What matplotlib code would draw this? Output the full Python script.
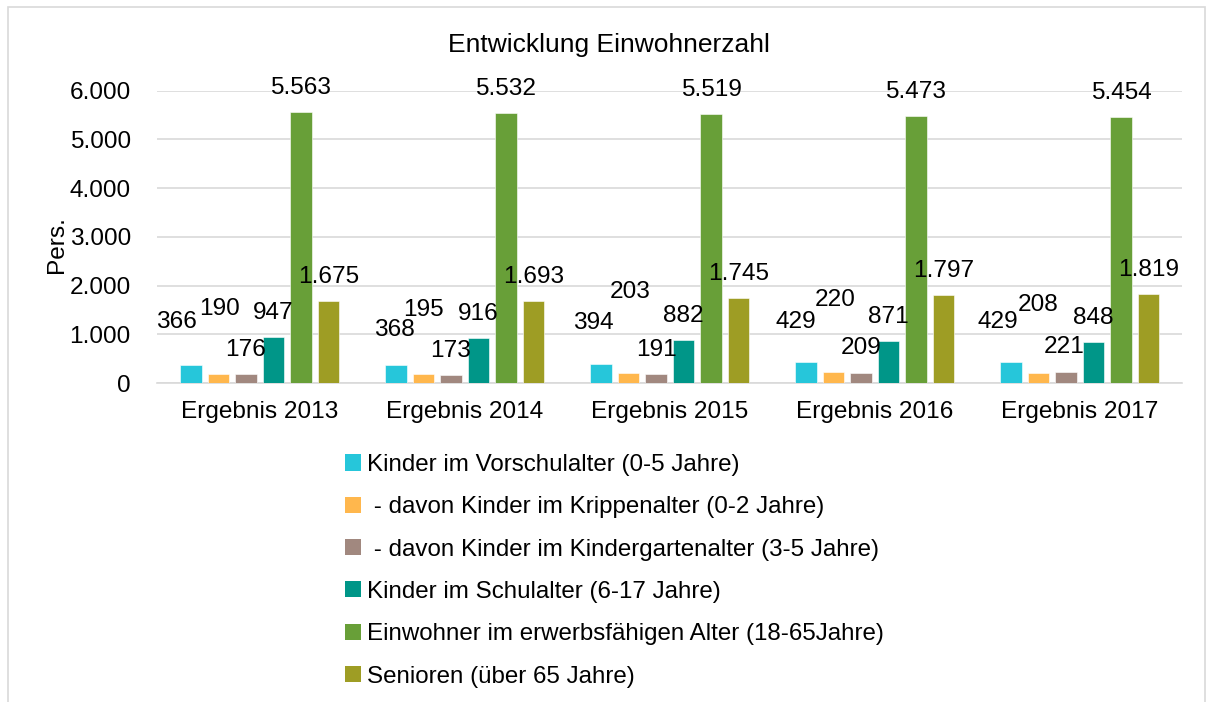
import matplotlib

matplotlib.use("Agg")
import matplotlib.pyplot as plt
import numpy as np
from matplotlib.patches import Patch, Rectangle
from matplotlib.ticker import FuncFormatter

plt.rcParams["font.family"] = ["Liberation Sans", "DejaVu Sans"]

# --- data --------------------------------------------------------------------
years = ["Ergebnis 2013", "Ergebnis 2014", "Ergebnis 2015", "Ergebnis 2016", "Ergebnis 2017"]

vorschul = [366, 368, 394, 429, 429]
krippe = [190, 195, 203, 220, 208]
kiga = [176, 173, 191, 209, 221]
schul = [947, 916, 882, 871, 848]
erwerb = [5563, 5532, 5519, 5473, 5454]
senioren = [1675, 1693, 1745, 1797, 1819]

series_names = [
    "Kinder im Vorschulalter (0-5 Jahre)",
    " - davon Kinder im Krippenalter (0-2 Jahre)",
    " - davon Kinder im Kindergartenalter (3-5 Jahre)",
    "Kinder im Schulalter (6-17 Jahre)",
    "Einwohner im erwerbsfähigen Alter (18-65Jahre)",
    "Senioren (über 65 Jahre)",
]
series_values = [vorschul, krippe, kiga, schul, erwerb, senioren]
colors = ["#26C6DA", "#FFB74D", "#A1887F", "#009688", "#689F38", "#9E9D24"]

# label offsets in pixels (dx, dy from the bar top), as placed in the original
default_off = (0, 24)
label_offsets = {
    0: [(-15, 43), (-2, 35), (-8, 41), (-10, 40), (-13, 40)],
    1: [(1, 65), (0, 64), (2, 81), (2, 72), (0, 68)],
    2: [(0, 24), (0, 24), (0, 24), (0, 25), (-2, 25)],
}

FS = 17.6
GRID = "#D9D9D9"

fig = plt.figure(figsize=(12.10, 7.02), dpi=100)
ax = fig.add_axes([157.25 / 1210, 1 - 383 / 702, 1025 / 1210, 292.3 / 702])

x = np.arange(len(years))
step = 0.134
width = 0.105
n = len(series_values)

for i, (vals, col) in enumerate(zip(series_values, colors)):
    pos = x + (i - (n - 1) / 2) * step
    ax.bar(pos, vals, width=width, color=col, edgecolor="white", linewidth=0.4, zorder=3)
    offs = label_offsets.get(i, [default_off] * len(vals))
    for px, v, (dx, dy) in zip(pos, vals, offs):
        ax.annotate(f"{v:,}".replace(",", "."), xy=(px, v), xytext=(dx, dy),
                    textcoords="offset pixels", ha="center", va="center",
                    fontsize=FS, color="black", zorder=4)

ax.set_xlim(-0.5, len(years) - 0.5)
ax.set_ylim(0, 6000)
ax.set_yticks(range(0, 6001, 1000))
ax.yaxis.set_major_formatter(FuncFormatter(lambda v, p: f"{int(v):,}".replace(",", ".")))
ax.set_xticks(x)
ax.set_xticklabels(years)
ax.tick_params(axis="both", length=0, labelsize=FS, colors="black")
ax.tick_params(axis="y", pad=19)
ax.tick_params(axis="x", pad=13)
ax.grid(axis="y", color=GRID, linewidth=1.2, zorder=0)
for s in ["top", "right", "left"]:
    ax.spines[s].set_visible(False)
ax.spines["bottom"].set_color(GRID)
ax.spines["bottom"].set_linewidth(1.2)

fig.text(57 / 1210, 1 - 245 / 702, "Pers.", rotation=90, ha="center", va="center", fontsize=FS)
fig.text(609 / 1210, 1 - 45 / 702, "Entwicklung Einwohnerzahl", ha="center", va="center", fontsize=19)

handles = [Patch(facecolor=c, edgecolor="none") for c in colors]
fig.legend(handles, series_names, loc="upper left", bbox_to_anchor=(345 / 1210, 1 - 454 / 702),
           frameon=False, fontsize=17.4, handlelength=0.65, handleheight=0.65,
           handletextpad=0.25, labelspacing=0.84, borderpad=0, borderaxespad=0)

# outer chart frame
fig.patches.append(Rectangle((8 / 1210, -0.1), 1197 / 1210, 1.1 - 7 / 702,
                             transform=fig.transFigure, fill=False,
                             edgecolor="#D9D9D9", linewidth=1.2))

fig.savefig("out.png", dpi=100)
